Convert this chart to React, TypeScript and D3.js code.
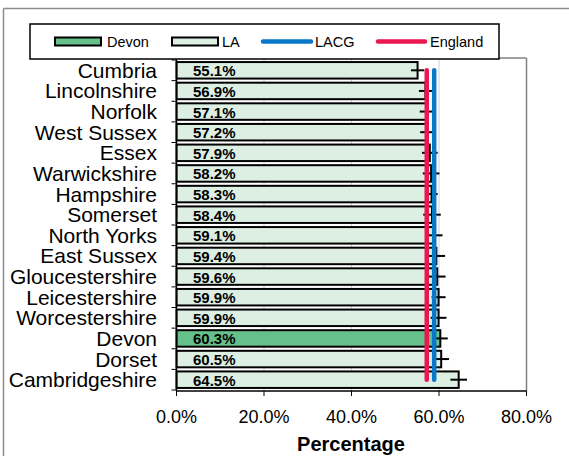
import * as d3 from "d3";
import React from "react";

const areas = [
  "Cumbria", "Lincolnshire", "Norfolk", "West Sussex", "Essex", "Warwickshire",
  "Hampshire", "Somerset", "North Yorks", "East Sussex", "Gloucestershire",
  "Leicestershire", "Worcestershire", "Devon", "Dorset", "Cambridgeshire",
];
const values = [55.1, 56.9, 57.1, 57.2, 57.9, 58.2, 58.3, 58.4, 59.1, 59.4, 59.6, 59.9, 59.9, 60.3, 60.5, 64.5];
const errors = [1.5, 1.5, 1.5, 1.5, 1.8, 1.9, 1.4, 2.0, 1.7, 2.0, 1.9, 1.6, 1.8, 1.7, 1.8, 1.9];
const lacg = 58.9;
const england = 57.2;
const xTicks = [0, 20, 40, 60, 80];
const highlight = "Devon";

const FONT = "'Liberation Sans', Arial, sans-serif";
const DEVON_FILL = "#66c08a";
const LA_FILL = "#ddefe3";
const LACG_COL = "#0a78c8";
const ENG_COL = "#ea1750";

const App: React.FC = () => {
  const width = 569;
  const height = 456;
  const left = 176.5;
  const right = 526.5;
  const top = 58;
  const bottom = 391;

  const x = d3.scaleLinear().domain([0, 80]).range([left, right]);
  const y = d3.scaleBand<string>().domain(areas).range([60, 390]).paddingInner(0.2).paddingOuter(0.1);
  const step = y.step();
  const bw = y.bandwidth();
  const yc = (a: string) => (y(a) as number) + bw / 2;

  const fmt = d3.format(".1f");

  return (
    <svg width={width} height={height} style={{ position: "absolute", left: 0, top: 0, background: "#fff" }} fontFamily={FONT}>
      {/* outer frame */}
      <line x1={3.5} x2={width} y1={8.5} y2={8.5} stroke="#8c8c8c" strokeWidth={1.5} />
      <line x1={3.5} x2={3.5} y1={8.5} y2={height} stroke="#8c8c8c" strokeWidth={1.5} />

      {/* gridlines */}
      {xTicks.slice(1, -1).map(t => (
        <line key={t} x1={x(t)} x2={x(t)} y1={top} y2={bottom} stroke="#d0d0d0" strokeWidth={1} />
      ))}
      {/* plot area border */}
      <line x1={left} x2={right} y1={top} y2={top} stroke="#808080" strokeWidth={1.5} />
      <line x1={right} x2={right} y1={top} y2={bottom} stroke="#808080" strokeWidth={1.5} />

      {/* bars */}
      {areas.map((a, i) => (
        <rect key={a} x={x(0)} y={y(a)} width={x(values[i]) - x(0)} height={bw}
          fill={a === highlight ? DEVON_FILL : LA_FILL} stroke="#000" strokeWidth={2} />
      ))}
      {/* error bars */}
      {areas.map((a, i) => (
        <line key={a} x1={x(values[i] - errors[i])} x2={x(values[i] + errors[i])} y1={yc(a)} y2={yc(a)}
          stroke="#000" strokeWidth={2} />
      ))}
      {/* value labels */}
      {areas.map((a, i) => (
        <text key={a} x={193} y={yc(a) + 6} fontSize={15} fontWeight="bold" fill="#000">
          {fmt(values[i])}%
        </text>
      ))}

      {/* reference lines */}
      <line x1={x(england)} x2={x(england)} y1={yc(areas[0])} y2={yc(areas[areas.length - 1])}
        stroke={ENG_COL} strokeWidth={4.5} strokeLinecap="round" />
      <line x1={x(lacg)} x2={x(lacg)} y1={yc(areas[0])} y2={yc(areas[areas.length - 1])}
        stroke={LACG_COL} strokeWidth={4.5} strokeLinecap="round" />

      {/* axes */}
      <line x1={left} x2={left} y1={top} y2={bottom} stroke="#000" strokeWidth={1.5} />
      <line x1={left} x2={right} y1={bottom} y2={bottom} stroke="#000" strokeWidth={1.5} />
      {areas.map((a, i) => (
        <line key={a} x1={left - 5} x2={left} y1={60 + i * step} y2={60 + i * step} stroke="#000" strokeWidth={1} />
      ))}
      <line x1={left - 5} x2={left} y1={390} y2={390} stroke="#000" strokeWidth={1} />
      {areas.map(a => (
        <text key={a} x={157} y={yc(a) + 7.5} fontSize={21} textAnchor="end" fill="#000">{a}</text>
      ))}
      {xTicks.map(t => (
        <g key={t}>
          <line x1={x(t)} x2={x(t)} y1={bottom} y2={bottom + 5} stroke="#000" strokeWidth={1} />
          <text x={x(t)} y={422.5} fontSize={18} textAnchor="middle" fill="#000">{fmt(t)}%</text>
        </g>
      ))}
      <text x={351} y={451} fontSize={20} fontWeight="bold" textAnchor="middle" fill="#000">Percentage</text>

      {/* legend */}
      <rect x={30} y={24} width={469} height={35} fill="#fff" stroke="#000" strokeWidth={1.5} />
      <rect x={55} y={37.5} width={46} height={8} fill={DEVON_FILL} stroke="#000" strokeWidth={2} />
      <text x={107} y={46.5} fontSize={14.5} fill="#000">Devon</text>
      <rect x={172} y={37.5} width={46} height={8} fill={LA_FILL} stroke="#000" strokeWidth={2} />
      <text x={222} y={46.5} fontSize={14.5} fill="#000">LA</text>
      <line x1={263} x2={311} y1={41.5} y2={41.5} stroke={LACG_COL} strokeWidth={4.5} strokeLinecap="round" />
      <text x={315} y={46.5} fontSize={14.5} fill="#000">LACG</text>
      <line x1={378} x2={425} y1={41.5} y2={41.5} stroke={ENG_COL} strokeWidth={4.5} strokeLinecap="round" />
      <text x={430} y={46.5} fontSize={14.5} fill="#000">England</text>
    </svg>
  );
};

export default App;
